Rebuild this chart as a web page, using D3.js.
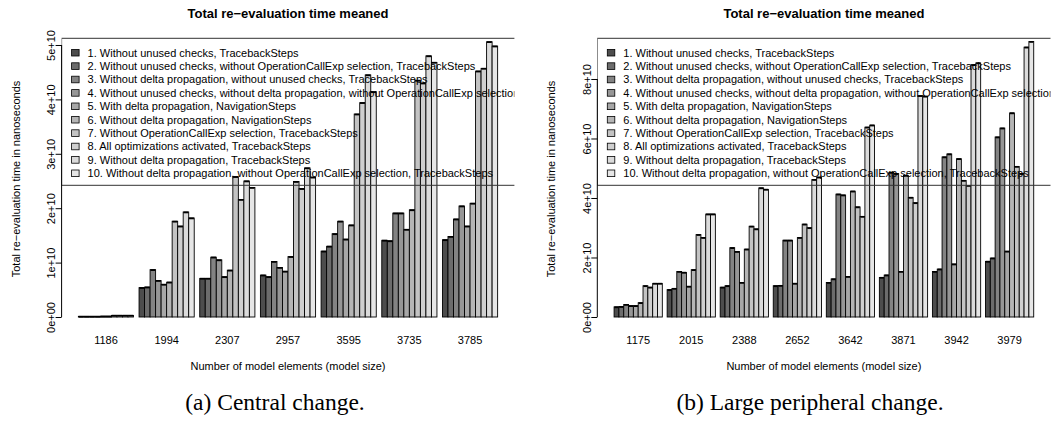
<!DOCTYPE html>
<html>
<head>
<meta charset="utf-8">
<script src="https://cdn.jsdelivr.net/npm/d3@7"></script>
<style>
  body { margin: 0; background: #fff; }
  svg text { font-family: "Liberation Sans", Arial, Helvetica, sans-serif; fill: #000; }
  .caption { font-family: "Liberation Serif", "Times New Roman", serif !important; }
</style>
</head>
<body>
<svg id="fig" width="1051" height="425"></svg>
<script>
// ten configurations, same order in both panels
const seriesNames = [
    "1. Without unused checks, TracebackSteps",
    "2. Without unused checks, without OperationCallExp selection, TracebackSteps",
    "3. Without delta propagation, without unused checks, TracebackSteps",
    "4. Without unused checks, without delta propagation, without OperationCallExp selection, TracebackSteps",
    "5. With delta propagation, NavigationSteps",
    "6. Without delta propagation, NavigationSteps",
    "7. Without OperationCallExp selection, TracebackSteps",
    "8. All optimizations activated, TracebackSteps",
    "9. Without delta propagation, TracebackSteps",
    "10. Without delta propagation, without OperationCallExp selection, TracebackSteps"
];
const seriesColors = ["#4D4D4D", "#6C6C6C", "#838383", "#969696", "#A7A7A7",
                      "#B5B5B5", "#C3C3C3", "#CFCFCF", "#DBDBDB", "#E6E6E6"];

// (a) central change: one row per model size, one column per configuration (ns)
const sizesCentral = ["1186", "1994", "2307", "2957", "3595", "3735", "3785"];
const timesCentral = [
    [0.012e10, 0.012e10, 0.012e10, 0.012e10, 0.015e10, 0.015e10, 0.03e10, 0.03e10, 0.03e10, 0.03e10],
    [0.54e10, 0.55e10, 0.87e10, 0.67e10, 0.60e10, 0.64e10, 1.76e10, 1.67e10, 1.93e10, 1.82e10],
    [0.71e10, 0.71e10, 1.10e10, 1.05e10, 0.74e10, 0.86e10, 2.58e10, 2.16e10, 2.50e10, 2.38e10],
    [0.77e10, 0.74e10, 1.02e10, 0.91e10, 0.84e10, 1.11e10, 2.49e10, 2.36e10, 2.74e10, 2.57e10],
    [1.21e10, 1.30e10, 1.53e10, 1.76e10, 1.43e10, 1.69e10, 3.73e10, 3.94e10, 4.45e10, 4.14e10],
    [1.41e10, 1.40e10, 1.91e10, 1.91e10, 1.61e10, 1.97e10, 4.35e10, 4.30e10, 4.80e10, 4.68e10],
    [1.42e10, 1.48e10, 1.80e10, 2.04e10, 1.67e10, 2.09e10, 4.52e10, 4.57e10, 5.06e10, 4.98e10]
];
const ticksCentral = [0, 1e10, 2e10, 3e10, 4e10, 5e10];
const tickLabelsCentral = ["0e+00", "1e+10", "2e+10", "3e+10", "4e+10", "5e+10"];

// (b) large peripheral change
const sizesPeripheral = ["1175", "2015", "2388", "2652", "3642", "3871", "3942", "3979"];
const timesPeripheral = [
    [0.34e10, 0.35e10, 0.42e10, 0.38e10, 0.38e10, 0.48e10, 1.05e10, 1.00e10, 1.13e10, 1.13e10],
    [0.92e10, 0.96e10, 1.53e10, 1.50e10, 1.03e10, 1.59e10, 2.77e10, 2.67e10, 3.46e10, 3.46e10],
    [1.00e10, 1.05e10, 2.33e10, 2.20e10, 1.16e10, 2.28e10, 3.05e10, 2.96e10, 4.34e10, 4.29e10],
    [1.05e10, 1.06e10, 2.58e10, 2.58e10, 1.13e10, 2.67e10, 3.12e10, 3.00e10, 4.62e10, 4.70e10],
    [1.16e10, 1.28e10, 4.13e10, 4.10e10, 1.36e10, 4.23e10, 3.70e10, 3.38e10, 6.38e10, 6.45e10],
    [1.33e10, 1.41e10, 4.86e10, 4.82e10, 1.53e10, 4.76e10, 4.02e10, 3.84e10, 7.44e10, 7.42e10],
    [1.53e10, 1.61e10, 5.38e10, 5.48e10, 1.78e10, 5.32e10, 4.59e10, 4.42e10, 8.48e10, 8.54e10],
    [1.87e10, 1.98e10, 6.05e10, 6.35e10, 2.21e10, 6.86e10, 5.06e10, 4.82e10, 9.07e10, 9.26e10]
];
const ticksPeripheral = [0, 2e10, 4e10, 6e10, 8e10];
const tickLabelsPeripheral = ["0e+00", "2e+10", "4e+10", "6e+10", "8e+10"];

const titleText = "Total re\u2212evaluation time meaned";
const yLabelText = "Total re\u2212evaluation time in nanoseconds";
const xLabelText = "Number of model elements (model size)";

const svg = d3.select("#fig");

function drawPanel(id, p) {
    const nSeries = seriesNames.length;
    const step = nSeries + 1;                 // one empty slot between groups
    const span = p.sizes.length * step;       // right edge of last bar
    const pad = (span - 1) * 0.04;            // R style 4% extension

    const x = d3.scaleLinear().domain([1 - pad, span + pad]).range([p.left, p.right]);
    const y = d3.scaleLinear().domain([0, p.yMax]).range([p.zeroY, p.top]);

    const g = svg.append("g");

    svg.append("clipPath").attr("id", "clip-" + id)
        .append("rect")
        .attr("x", p.left).attr("y", 0)
        .attr("width", p.right - p.left).attr("height", 425);

    const bars = [];
    p.values.forEach((row, gi) => {
        row.forEach((v, si) => {
            bars.push({ g: gi, s: si, v: v, x0: 1 + gi * step + si });
        });
    });

    g.selectAll("rect.bar")
        .data(bars)
        .enter()
        .append("rect")
        .attr("class", "bar")
        .attr("x", d => x(d.x0))
        .attr("width", d => x(d.x0 + 1) - x(d.x0))
        .attr("y", d => y(d.v))
        .attr("height", d => y(0) - y(d.v))
        .attr("fill", d => seriesColors[d.s])
        .attr("stroke", "#000")
        .attr("stroke-width", 0.9);

    // small error bar caps on top of each bar
    g.selectAll("line.cap")
        .data(bars)
        .enter()
        .append("line")
        .attr("x1", d => x(d.x0) + 0.3)
        .attr("x2", d => x(d.x0 + 1) - 0.3)
        .attr("y1", d => y(d.v) + 0.4)
        .attr("y2", d => y(d.v) + 0.4)
        .attr("stroke", "#000")
        .attr("stroke-width", 1.8);

    // group labels under the bars
    g.selectAll("text.size")
        .data(p.sizes)
        .enter()
        .append("text")
        .attr("x", (d, i) => x(1 + i * step + nSeries / 2))
        .attr("y", 344)
        .attr("text-anchor", "middle")
        .attr("font-size", 11)
        .text(d => d);

    // legend, clipped to the plot region like in R
    const leg = g.append("g").attr("clip-path", "url(#clip-" + id + ")");
    leg.append("rect")
        .attr("x", p.left).attr("y", p.top)
        .attr("width", 600).attr("height", 147)
        .attr("fill", "none")
        .attr("stroke", "#333")
        .attr("stroke-width", 1);
    const item = leg.selectAll("g.item")
        .data(seriesNames)
        .enter()
        .append("g")
        .attr("transform", (d, i) => `translate(${p.left}, ${52.7 + i * 13.4})`);
    item.append("rect")
        .attr("x", 10).attr("y", -3.3)
        .attr("width", 7.5).attr("height", 6.6)
        .attr("fill", (d, i) => seriesColors[i])
        .attr("stroke", "#000")
        .attr("stroke-width", 0.8);
    item.append("text")
        .attr("x", 26).attr("y", 3.9)
        .attr("font-size", 11)
        .attr("fill", "#000")
        .text(d => d);

    // y axis
    const axis = d3.axisLeft(y)
        .tickValues(p.ticks)
        .tickSize(6)
        .tickFormat((d, i) => p.tickLabels[i]);
    const ax = g.append("g")
        .attr("transform", `translate(${p.left},0)`)
        .call(axis);
    ax.select(".domain").remove();
    ax.selectAll(".tick line").attr("stroke", "#000");
    ax.selectAll(".tick text")
        .attr("font-size", 11)
        .attr("font-family", "Liberation Sans, Arial, sans-serif")
        .attr("transform", "rotate(-90)")
        .attr("x", 0).attr("y", -6.7).attr("dy", 0)
        .attr("text-anchor", "middle");
    ax.append("line")
        .attr("x1", 0).attr("x2", 0)
        .attr("y1", y(p.ticks[0])).attr("y2", y(p.ticks[p.ticks.length - 1]))
        .attr("stroke", "#000");

    // titles
    const mid = (p.left + p.right) / 2;
    g.append("text")
        .attr("x", mid).attr("y", 17.6)
        .attr("text-anchor", "middle")
        .attr("font-size", 13)
        .attr("font-weight", "bold")
        .text(titleText);
    g.append("text")
        .attr("x", mid).attr("y", 370)
        .attr("text-anchor", "middle")
        .attr("font-size", 11)
        .text(xLabelText);
    g.append("text")
        .attr("transform", `translate(${p.left - 42}, 179) rotate(-90)`)
        .attr("text-anchor", "middle")
        .attr("font-size", 11)
        .text(yLabelText);
    g.append("text")
        .attr("class", "caption")
        .attr("x", p.captionX).attr("y", 410)
        .attr("text-anchor", "middle")
        .attr("font-size", 23.5)
        .text(p.caption);
}

drawPanel("a", {
    sizes: sizesCentral, values: timesCentral,
    ticks: ticksCentral, tickLabels: tickLabelsCentral,
    left: 61.6, right: 514.4, top: 38.3, zeroY: 317, yMax: 5.123e10,
    caption: "(a) Central change.", captionX: 275
});
drawPanel("b", {
    sizes: sizesPeripheral, values: timesPeripheral,
    ticks: ticksPeripheral, tickLabels: tickLabelsPeripheral,
    left: 597.3, right: 1050.5, top: 38.3, zeroY: 317, yMax: 9.368e10,
    caption: "(b) Large peripheral change.", captionX: 810
});
</script>
</body>
</html>
